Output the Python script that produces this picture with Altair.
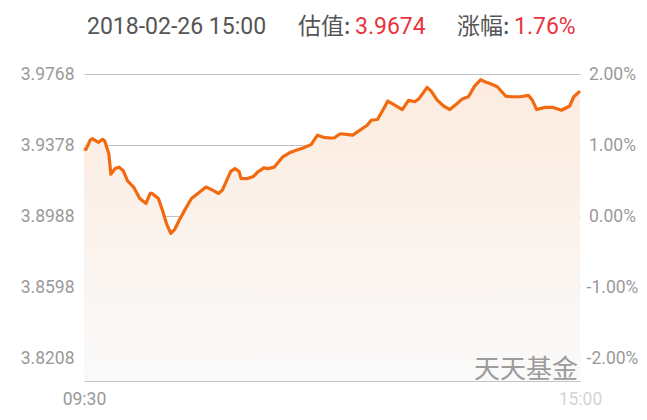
import altair as alt
import pandas as pd

# ---- data ----
minutes = [0, 1, 3, 4, 7, 9, 10, 12, 13, 15, 17, 19, 21, 24, 27, 30, 32, 33, 36, 38,
           40, 42, 44, 46, 49, 52, 56, 59, 62, 65, 67, 69, 71, 73, 75, 76, 79, 82, 84, 87,
           89, 92, 94, 96, 100, 103, 106, 110, 112, 113, 116, 119, 121, 124, 127, 130, 134,
           137, 139, 142, 144, 147, 150, 154, 157, 160, 162, 166, 168, 171, 174, 177, 180,
           183, 186, 189, 192, 194, 197, 200, 204, 207, 211, 215, 217, 219, 223, 227, 231,
           235, 237, 240]
pct = [0.95, 0.94, 1.07, 1.09, 1.04, 1.08, 1.06, 0.88, 0.59, 0.67, 0.69, 0.64, 0.50, 0.41,
       0.25, 0.18, 0.32, 0.32, 0.25, 0.08, -0.11, -0.24, -0.18, -0.06, 0.10, 0.25, 0.34,
       0.41, 0.37, 0.32, 0.37, 0.50, 0.63, 0.67, 0.63, 0.53, 0.53, 0.56, 0.62, 0.68, 0.67,
       0.69, 0.76, 0.83, 0.90, 0.93, 0.96, 1.01, 1.10, 1.14, 1.11, 1.10, 1.10, 1.16, 1.15,
       1.14, 1.22, 1.28, 1.35, 1.36, 1.46, 1.62, 1.57, 1.50, 1.63, 1.61, 1.65, 1.81, 1.76,
       1.63, 1.55, 1.50, 1.57, 1.65, 1.68, 1.83, 1.92, 1.89, 1.86, 1.82, 1.69, 1.68, 1.68,
       1.70, 1.63, 1.50, 1.53, 1.53, 1.49, 1.55, 1.68, 1.76]

base_nav = 3.8988
pct_ticks = [-2, -1, 0, 1, 2]
time_ticks = [0, 240]
header_date = "2018-02-26 15:00"
header_est_label = "估值:"
header_est_value = "3.9674"
header_chg_label = "涨幅:"
header_chg_value = "1.76%"
watermark = "天天基金"

Y_MIN, Y_MAX = -2.317, 2.0
FONT = "Roboto, 'Noto Sans CJK SC', sans-serif"
CJK = "'Noto Sans CJK SC', Roboto, sans-serif"

df = pd.DataFrame({"m": minutes, "p": pct})

xscale = alt.Scale(domain=[0, 240], nice=False, zero=False)
yscale = alt.Scale(domain=[Y_MIN, Y_MAX], nice=False, zero=False)

x_axis = alt.Axis(
    values=time_ticks, title=None, grid=False, ticks=False, tickSize=0,
    labelExpr="datum.value == 0 ? '09:30' : '15:00'",
    labelColor={"condition": {"test": "datum.value == 0", "value": "#999999"}, "value": "#d4d4d4"},
    labelFontSize=17.5, labelFont=FONT, labelPadding=9, labelFlush=False,
    domainColor="#c4c4c4", domainWidth=1.2,
)

left_axis = alt.Axis(
    values=pct_ticks, title=None, orient="left", ticks=False, tickSize=0, domain=False,
    labelExpr=f"format({base_nav} * (1 + datum.value / 100), '.4f')",
    labelColor="#9a9a9a", labelFontSize=17.5, labelFont=FONT, labelPadding=10,
    grid=True, gridColor="#c2c2c2", gridWidth=1,
)

right_axis = alt.Axis(
    values=pct_ticks, title=None, orient="right", ticks=False, tickSize=0, domain=False,
    labelExpr="(datum.value < 0 ? '-' : '') + format(abs(datum.value), '.2f') + '%'",
    labelColor="#9a9a9a", labelFontSize=17.5, labelFont=FONT, labelPadding=32,
    labelAlign="center", grid=False,
)

base = alt.Chart(df)

area = base.mark_area(
    color=alt.Gradient(
        gradient="linear",
        stops=[alt.GradientStop(color="#fcebdf", offset=0),
               alt.GradientStop(color="#fafafa", offset=1)],
        x1=1, x2=1, y1=0, y2=1,
    )
).encode(
    x=alt.X("m:Q", scale=xscale, axis=x_axis),
    y=alt.Y("p:Q", scale=yscale, axis=left_axis),
    y2=alt.datum(Y_MIN),
)

line = base.mark_line(color="#f26a10", strokeWidth=3.2, strokeJoin="round").encode(
    x=alt.X("m:Q", scale=xscale, axis=x_axis),
    y=alt.Y("p:Q", scale=yscale, axis=None),
)

right = base.mark_point(opacity=0).encode(
    x=alt.X("m:Q", scale=xscale, axis=x_axis),
    y=alt.Y("p:Q", scale=yscale, axis=right_axis),
)

def label(text, x, color, font=FONT, size=23, align="left", y=-40, opacity=1.0):
    return alt.Chart(pd.DataFrame({"t": [text]})).mark_text(
        align=align, baseline="alphabetic", fontSize=size, font=font,
        color=color, opacity=opacity,
    ).encode(text="t:N", x=alt.value(x), y=alt.value(y))

header = [
    label(header_date, 3, "#555555"),
    label(header_est_label, 214, "#555555", font=CJK),
    label(header_est_value, 271, "#e8343c"),
    label(header_chg_label, 373, "#555555", font=CJK),
    label(header_chg_value, 430, "#e8343c"),
]

wm = label(watermark, 494, "#8c8c8c", font=CJK, size=26, align="right", y=304, opacity=0.85)

chart = alt.layer(area, line, right, *header, wm).resolve_scale(y="independent").properties(
    width=496, height=307,
    autosize=alt.AutoSizeParams(type="none"),
    padding={"left": 76, "top": 66, "right": 59, "bottom": 31},
    background="white",
).configure_view(stroke=None)

chart.save("out.html", embed_options={"renderer": "svg", "actions": False})
